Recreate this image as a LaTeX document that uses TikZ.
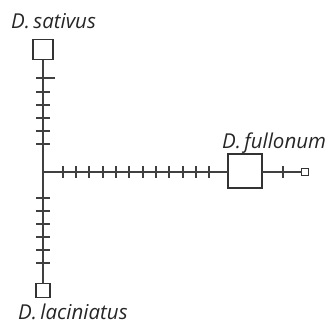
\documentclass[tikz,border=0pt]{standalone}
\usepackage{fontspec}
\setmainfont{Open Sans}
\begin{document}
\begin{tikzpicture}[x=1pt,y=-1pt,
  ln/.style={draw=black!75,line width=1.3pt},
  hap/.style={draw=black!80,line width=1.3pt,fill=white,inner sep=0pt,outer sep=0pt,minimum size=#1},
  lab/.style={font=\fontsize{20.5}{24}\selectfont\itshape,inner sep=0pt,text=black!85,anchor=base west}]
\useasboundingbox (0,0) rectangle (332,325);
\node[hap=20pt] (sat) at (43,49.5) {};
\node[hap=14pt] (lac) at (43,290.5) {};
\node[hap=34pt] (ful) at (245,171) {};
\node[hap=7pt] (sm) at (305,172) {};
\coordinate (j) at (43,172);
\draw[ln] (sat.south) -- (lac.north);
\draw[ln] (j) -- (ful.west |- j);
\draw[ln] (ful.east |- sm) -- (sm.west);
\foreach \y in {92,105,118,131,144,198,211,224,237,250,263}
  \draw[ln] (36,\y) -- (50,\y);
\draw[ln] (36,78) -- (55,78);
\foreach \x in {63,76,89,103,116,129,143,156,169,183,196,209,283}
  \draw[ln] (\x,166) -- (\x,178);
\node[lab] (tsat) at (11,28) {D.\,sativus};
\node[lab] (tful) at (222,148) {D.\,fullonum};
\node[lab] (tlac) at (18,319.5) {D.\,laciniatus};
\end{tikzpicture}
\end{document}
